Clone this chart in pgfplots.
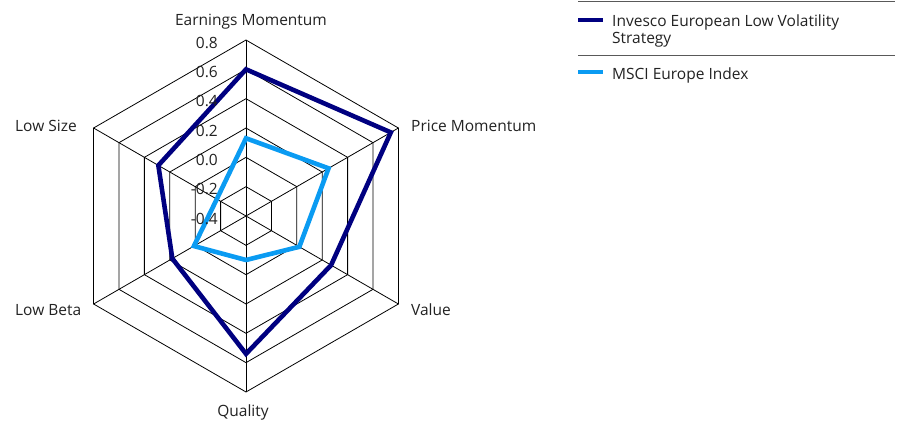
\documentclass[border=0pt]{standalone}
\usepackage{pgfplots}
\pgfplotsset{compat=1.18}
\usepackage{pgfplotstable}
\usepackage{fontspec}
\setmainfont{Open Sans}
\definecolor{navy}{HTML}{000080}
\definecolor{sky}{HTML}{0A9BF2}
\definecolor{txt}{HTML}{222222}
% angle of spoke, value of strategy, value of index (first rows repeated to close the polygon)
\pgfplotstableread{
angle dark light
90 0.60 0.13
30 0.74 0.25
-30 0.27 0.02
-90 0.54 -0.10
-150 0.18 0.01
150 0.29 -0.17
90 0.60 0.13
30 0.74 0.25
}\radar
\begin{document}
\begin{tikzpicture}[x=1bp,y=1bp,font=\fontsize{15.5bp}{18bp}\selectfont,text=txt]
% grid
\begin{scope}[shift={(246,205)}]
\foreach \k in {1,...,6}{
  \draw[line width=0.8bp] (90:\k*29.33) -- (30:\k*29.33) -- (-30:\k*29.33) -- (-90:\k*29.33) -- (-150:\k*29.33) -- (150:\k*29.33) -- cycle;
}
\foreach \a in {90,30,-30,-90,-150,150} \draw[line width=0.8bp] (0,0) -- (\a:176);
\end{scope}
\begin{axis}[at={(0,0)},anchor=south west,scale only axis,
  x=146.67bp,y=146.67bp,
  xmin=-1.6772,xmax=4.5067,ymin=-1.3977,ymax=1.4727,
  hide axis,clip=false]
\addplot[navy,line width=4.6bp,line join=miter,no markers]
  table[x expr={(\thisrow{dark}+0.4)*cos(\thisrow{angle})},
        y expr={(\thisrow{dark}+0.4)*sin(\thisrow{angle})}] {\radar};
\addplot[sky,line width=4.6bp,line join=miter,no markers]
  table[x expr={(\thisrow{light}+0.4)*cos(\thisrow{angle})},
        y expr={(\thisrow{light}+0.4)*sin(\thisrow{angle})}] {\radar};
\end{axis}
% radial tick labels
\foreach \v [count=\k from 0] in {-0.4,-0.2,0.0,0.2,0.4,0.6,0.8}
  \node[anchor=base east,inner sep=0] at (218,197+\k*29.33) {\v};
% category labels
\node[anchor=base,inner sep=0] at (251,395) {Earnings Momentum};
\node[anchor=base west,inner sep=0] at (411,290) {Price Momentum};
\node[anchor=base west,inner sep=0] at (411,106) {Value};
\node[anchor=base,inner sep=0] at (243,4.5) {Quality};
\node[anchor=base west,inner sep=0] at (15,106) {Low Beta};
\node[anchor=base west,inner sep=0] at (15,290) {Low Size};
% legend
\draw[gray!70!black,line width=1bp] (578,419) -- (895,419);
\draw[gray!70!black,line width=1bp] (578,366) -- (895,366);
\draw[navy,line width=3.5bp] (578,401) -- (603,401);
\node[anchor=base west,inner sep=0] at (612,394) {Invesco European Low Volatility};
\node[anchor=base west,inner sep=0] at (612,377.5) {Strategy};
\draw[sky,line width=3.5bp] (578,349) -- (603,349);
\node[anchor=base west,inner sep=0] at (612,342) {MSCI Europe Index};
\pgfresetboundingbox
\path[use as bounding box] (0,0) rectangle (907,421);
\end{tikzpicture}
\end{document}
